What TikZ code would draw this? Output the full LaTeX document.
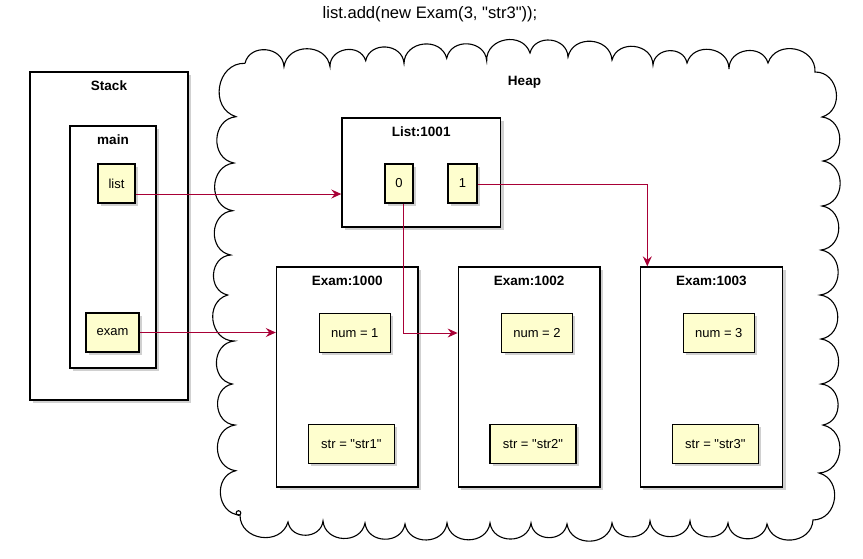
\documentclass[tikz,border=0pt]{standalone}
\usepackage{fontspec}
\setmainfont{Liberation Sans}
\usetikzlibrary{arrows.meta,shadows,calc}
\definecolor{pyel}{HTML}{FEFECE}
\definecolor{parr}{HTML}{A80036}
\newcommand{\qq}{\textquotedbl}
\tikzset{
  shad/.style={drop shadow={shadow xshift=3pt,shadow yshift=-3pt,opacity=0.3,fill=black!60}},
  box/.style={draw=black,line width=1.4pt,fill=white,shad,inner sep=0pt},
  item/.style={draw=black,line width=1.3pt,fill=pyel,shad,inner sep=0pt,minimum height=39pt,font=\fontsize{13}{15}\selectfont},
  btitle/.style={font=\fontsize{13.5}{16}\selectfont\bfseries,inner sep=0pt},
  cloudline/.style={draw=black,line width=1.1pt},
  cb/.style={bend left=82,looseness=1.35},
  arr/.style={draw=parr,line width=1pt,-{Stealth[length=10pt,width=9pt,inset=3.5pt]}}
}
\begin{document}
\begin{tikzpicture}[x=1pt,y=-1pt]
\useasboundingbox (0,0) rectangle (863,558);
% title
\node[font=\fontsize{16.6}{20}\selectfont,inner sep=0pt] (title) at (430,14) {list.add(new Exam(3, \qq str3\qq));};
% heap cloud
\draw[cloudline] (245,63.3) to[cb] (284,66.7) to[cb] (330,66.7) to[cb] (365.7,60.7) to[cb] (404,63.3)
  to[cb] (446.7,58.3) to[cb] (486.7,60.7) to[cb] (530,53) to[cb] (568,57) to[cb] (612,60)
  to[cb] (653,65) to[cb] (687,63) to[cb] (729,69) to[cb] (768,63) to[cb] (815,72)
  to[cb] (822,117) to[cb] (823,161) to[cb] (822,206) to[cb] (821,250) to[cb] (820,295)
  to[cb] (821,339) to[cb] (821,384) to[cb] (823,425) to[cb] (819,473) to[cb] (813,520)
  to[cb] (767,524) to[cb] (728,523) to[cb] (690,521) to[cb] (650,521) to[cb] (612,523)
  to[cb] (567,524) to[cb] (531,523) to[cb] (490,523) to[cb] (447,523) to[cb] (405,524)
  to[cb] (365,523) to[cb] (323,521) to[cb] (288,522) to[cb] (240,515)
  to[cb] (235.7,470.7) to[cb] (235,425) to[cb] (232.3,384) to[cb] (234.3,341) to[cb] (227.7,295)
  to[cb] (230.7,255) to[cb] (232.7,210.7) to[cb] (234,163) to[cb] (236,116.7) to[cb] (245,63.3);
\draw[cloudline] (238.5,513) circle (2.3);
\node[btitle] (heapt) at (524.5,82) {Heap};
% stack
\node[box,minimum width=158pt,minimum height=328pt] (stack) at (109,236) {};
\node[btitle] (stackt) at (109,86) {Stack};
\node[box,minimum width=86pt,minimum height=242pt] (main) at (113,247) {};
\node[btitle] (maint) at (113,140) {main};
\node[item,minimum width=37pt] (list) at (116.5,183.5) {list};
\node[item,minimum width=53pt] (exam) at (112.5,332.5) {exam};
% list object
\node[box,minimum width=158.5pt,minimum height=109pt] (lst) at (421.25,172.5) {};
\node[btitle] (lstt) at (421.25,132) {List:1001};
\node[item,minimum width=28pt] (zero) at (399,183.5) {0};
\node[item,minimum width=29pt] (one) at (462.5,183.5) {1};
% exam objects
\node[box,minimum width=141.5pt,minimum height=220pt] (e1000) at (347.25,377) {};
\node[btitle] (e1000t) at (347.25,281) {Exam:1000};
\node[item,minimum width=71pt] (num1) at (354.8,332.7) {num = 1};
\node[item,minimum width=86pt] (str1) at (351.3,443.8) {str = \qq str1\qq};
\node[box,minimum width=141.7pt,minimum height=220pt] (e1002) at (529.15,377) {};
\node[btitle] (e1002t) at (529.15,281) {Exam:1002};
\node[item,minimum width=70.6pt] (num2) at (537,332.7) {num = 2};
\node[item,minimum width=86pt] (str2) at (533,443.8) {str = \qq str2\qq};
\node[box,minimum width=142.2pt,minimum height=220pt] (e1003) at (711.4,377) {};
\node[btitle] (e1003t) at (711.4,281) {Exam:1003};
\node[item,minimum width=71pt] (num3) at (718.8,332.7) {num = 3};
\node[item,minimum width=86pt] (str3) at (715.3,443.8) {str = \qq str3\qq};
% arrows
\draw[arr] ([yshift=-10.5pt]list.east) -- ([yshift=-10.5pt]list.east -| lst.west);
\draw[arr] (exam.east) -- (exam.east -| e1000.west);
\draw[arr] ([yshift=-0.5pt]one.east) -| ([xshift=7.7pt]e1003.north west);
\draw[arr] ([xshift=4pt]zero.south) |- ([yshift=-0.3pt]e1002.west |- num2.west);
\end{tikzpicture}
\end{document}
